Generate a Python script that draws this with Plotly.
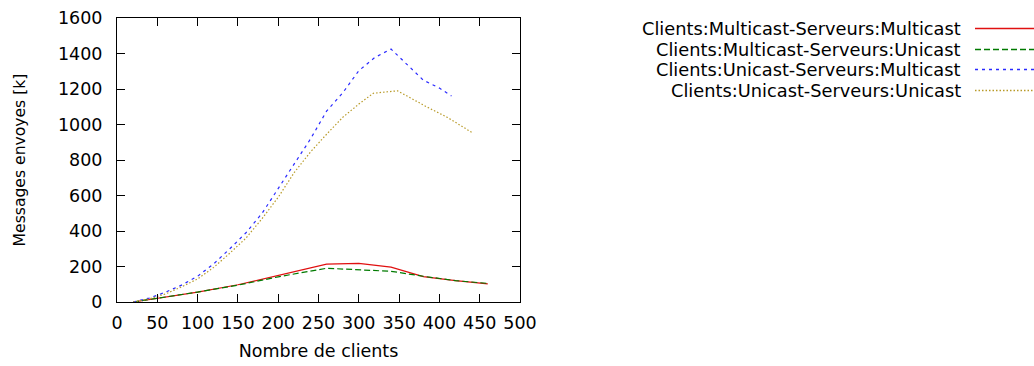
import plotly.graph_objects as go

# Multicast / multicast
mm_x = [20, 50, 100, 150, 200, 260, 300, 340, 380, 420, 460]
mm_y = [0, 20, 56, 97, 150, 213, 218, 196, 143, 120, 102]

# Multicast / unicast
mu_x = [20, 50, 100, 150, 200, 260, 300, 340, 380, 420, 460]
mu_y = [0, 20, 56, 95, 142, 190, 183, 173, 145, 120, 105]

# Unicast / multicast
um_x = [20, 40, 60, 80, 100, 120, 140, 160, 180, 200, 220, 240, 260, 280,
        300, 320, 340, 360, 380, 400, 415]
um_y = [0, 22, 55, 95, 145, 215, 300, 390, 500, 638, 778, 918, 1075, 1178,
        1303, 1378, 1425, 1338, 1250, 1205, 1161]

# Unicast / unicast
uu_x = [20, 40, 60, 80, 100, 120, 140, 160, 180, 200, 220, 240, 260, 280,
        300, 318, 348, 384, 410, 440]
uu_y = [0, 18, 45, 85, 130, 195, 275, 360, 470, 590, 730, 845, 945, 1040,
        1115, 1176, 1190, 1100, 1040, 956]

series_names = [
    "Clients:Multicast-Serveurs:Multicast",
    "Clients:Multicast-Serveurs:Unicast",
    "Clients:Unicast-Serveurs:Multicast",
    "Clients:Unicast-Serveurs:Unicast",
]

x_ticks = [0, 50, 100, 150, 200, 250, 300, 350, 400, 450, 500]
y_ticks = [0, 200, 400, 600, 800, 1000, 1200, 1400, 1600]

styles = [
    dict(color="#e01010", dash="solid", width=1.2),
    dict(color="#007a00", dash="6px,3px", width=1.2),
    dict(color="#2a2aff", dash="3px,4px", width=1.2),
    dict(color="#b89a28", dash="1.5px,2px", width=1.2),
]

data = [(mm_x, mm_y), (mu_x, mu_y), (um_x, um_y), (uu_x, uu_y)]

FONT = "DejaVu Sans, Liberation Sans, sans-serif"
fig = go.Figure()
for (xs, ys), name, st in zip(data, series_names, styles):
    fig.add_trace(go.Scatter(x=xs, y=ys, mode="lines", name=name,
                             line=st, showlegend=False))

# Gnuplot-style key: right-aligned text followed by a line sample
L, R, T, B = 117, 520, 18, 302
pw, ph = R - L, B - T
rows_px = [28.5, 49.5, 69.5, 90.5]
for name, st, py in zip(series_names, styles, rows_px):
    yp = (B - py) / ph
    fig.add_annotation(x=(962 - L) / pw, y=yp, xref="paper", yref="paper",
                       text=name, showarrow=False, xanchor="right",
                       yanchor="middle", borderpad=0,
                       font=dict(size=17.8, color="black", family=FONT))
    fig.add_shape(type="line", xref="paper", yref="paper",
                  x0=(975 - L) / pw, x1=(1034 - L) / pw, y0=yp, y1=yp,
                  line=dict(color=st["color"], dash=st["dash"], width=1.5))

axis_common = dict(showgrid=False, zeroline=False, showline=True, mirror="ticks",
                   linecolor="black", linewidth=1, ticks="inside", ticklen=8,
                   tickcolor="black", tickwidth=1, automargin=False,
                   tickfont=dict(size=17.5, color="black", family=FONT))

fig.update_xaxes(range=[0, 500], tickvals=x_ticks, ticklabelstandoff=5,
                 title=dict(text="Nombre de clients", standoff=12,
                            font=dict(size=17.5, color="black", family=FONT)),
                 **axis_common)
fig.update_yaxes(range=[0, 1600], tickvals=y_ticks, ticklabelstandoff=10,
                 title=dict(text="Messages envoyes [k]", standoff=28,
                            font=dict(size=15.6, color="black", family=FONT)),
                 **axis_common)

fig.update_layout(width=1034, height=366, plot_bgcolor="white", paper_bgcolor="white",
                  margin=dict(l=L, r=1034 - R, t=T, b=366 - B), showlegend=False,
                  font=dict(family=FONT, color="black"))

fig.write_html("out.html")
